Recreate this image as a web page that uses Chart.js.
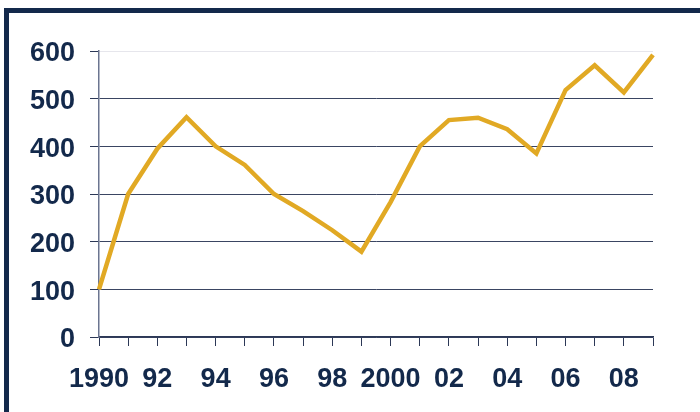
<!DOCTYPE html>
<html>
<head>
<meta charset="utf-8">
<script src="https://cdn.jsdelivr.net/npm/chart.js@4/dist/chart.umd.min.js"></script>
<style>
  html, body { margin: 0; padding: 0; background: #fff; }
  #wrap { position: relative; width: 700px; height: 412px; overflow: hidden; }
  #frame { position: absolute; left: 4px; top: 8px; width: 720px; height: 420px;
           border-top: 5px solid #13294b; border-left: 5px solid #13294b; }
  canvas { position: absolute; left: 0; top: 0; }
</style>
</head>
<body>
<div id="wrap">
  <div id="frame"></div>
  <canvas id="lineChart" width="700" height="412"></canvas>
</div>
<script>
const years = [1990, 1991, 1992, 1993, 1994, 1995, 1996, 1997, 1998, 1999,
               2000, 2001, 2002, 2003, 2004, 2005, 2006, 2007, 2008, 2009];
const tickLabels = ["1990", "", "92", "", "94", "", "96", "", "98", "",
                    "2000", "", "02", "", "04", "", "06", "", "08", ""];
const values = [100, 300, 395, 461, 400, 361, 300, 264, 224, 179,
                283, 400, 455, 460, 436, 385, 518, 570, 513, 592];

const navy = "#13294b";
const font = { family: "'Liberation Sans', Arial, sans-serif", size: 27, weight: "bold" };

const ctx = document.getElementById("lineChart").getContext("2d");
const chart = new Chart(ctx, {
  type: "line",
  data: {
    labels: years,
    datasets: [{
      data: values,
      borderColor: "#e1a924",
      borderWidth: 4.5,
      pointRadius: 0,
      tension: 0,
      fill: false
    }]
  },
  options: {
    responsive: false,
    animation: false,
    layout: { padding: { top: 51, right: 47, left: 0, bottom: 0 } },
    plugins: { legend: { display: false }, tooltip: { enabled: false } },
    scales: {
      x: {
        offset: false,
        grid: { drawOnChartArea: false, drawTicks: true, tickLength: 9, tickColor: "#2c3856" },
        border: { color: "#2c3856", width: 1.5 },
        ticks: {
          autoSkip: false, maxRotation: 0, padding: 17, color: navy, font: font,
          callback: (v, i) => tickLabels[i]
        },
        afterFit: (scale) => { scale.height = 75; }
      },
      y: {
        min: 0, max: 600,
        grid: {
          tickLength: 9,
          tickColor: "#2c3856",
          color: (c) => c.tick && c.tick.value === 600 ? "#e6e6ec" : "#3a4562"
        },
        border: { color: "#6b7590", width: 1.5 },
        ticks: { stepSize: 100, padding: 15, labelOffset: 3, color: navy, font: font },
        afterFit: (scale) => { scale.width = 99; }
      }
    }
  }
});
</script>
</body>
</html>
